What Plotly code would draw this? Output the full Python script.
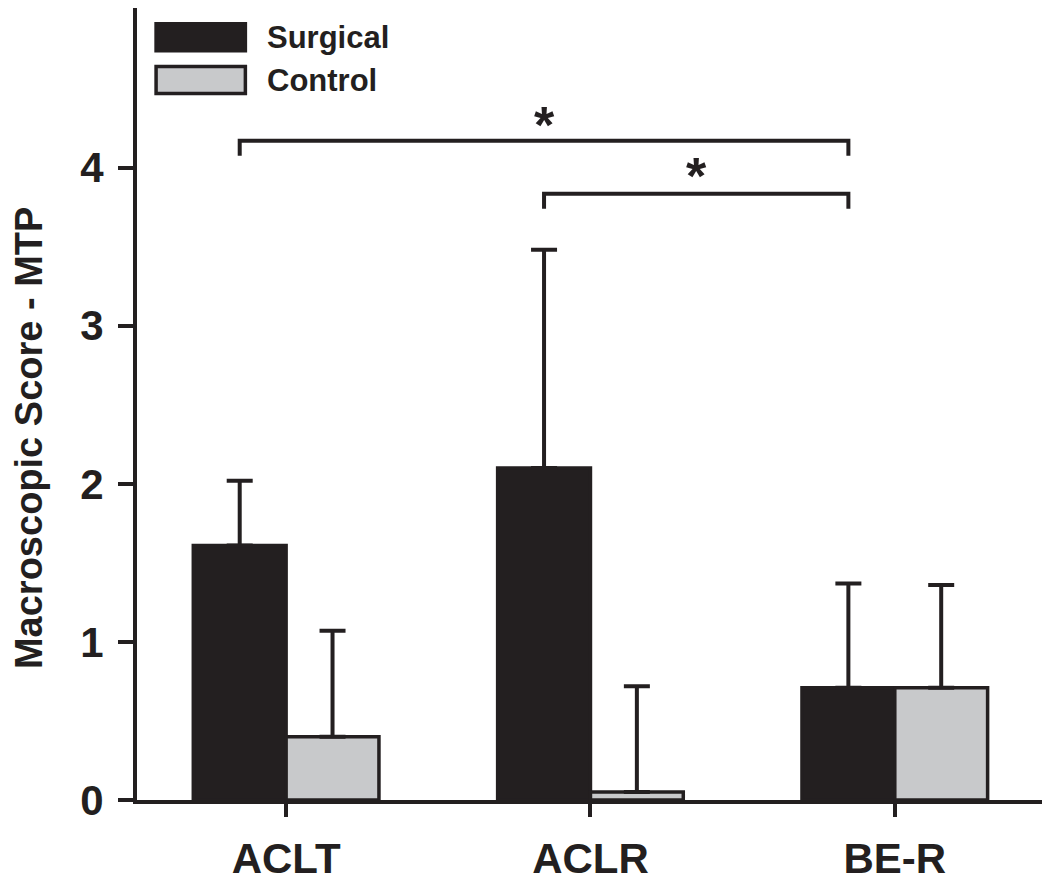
import plotly.graph_objects as go

categories = ["ACLT", "ACLR", "BE-R"]
surgical_mean = [1.61, 2.10, 0.71]
surgical_sd = [0.41, 1.38, 0.66]
control_mean = [0.40, 0.05, 0.71]
control_sd = [0.67, 0.67, 0.65]
series_names = ["Surgical", "Control"]
y_ticks = [0, 1, 2, 3, 4]
# significance brackets: (from category index, to category index, level, drop, star level)
brackets = [(0, 2, 4.17, 0.095, 4.27), (1, 2, 3.835, 0.095, 3.95)]

INK = "#231f20"
GREY = "#c8c9cb"
FONT = "Liberation Sans"
BARGAP = 0.39

# the page body has an 8px margin; the figure is sized so the plot area lands
# where it sits in the reference (x 137..1047, y 6..800 in window pixels)
W, H = 1042, 875
ML, MR, MT, MB = 129, 0, 0, 83

fig = go.Figure()
fig.add_trace(go.Bar(
    x=categories, y=surgical_mean, name=series_names[0],
    marker=dict(color=INK, line=dict(color=INK, width=3.5)),
    error_y=dict(type="data", symmetric=False, array=surgical_sd,
                 arrayminus=[0] * len(surgical_sd), thickness=4, width=13, color=INK),
    showlegend=False,
))
fig.add_trace(go.Bar(
    x=categories, y=control_mean, name=series_names[1],
    marker=dict(color=GREY, line=dict(color=INK, width=3.5)),
    error_y=dict(type="data", symmetric=False, array=control_sd,
                 arrayminus=[0] * len(control_sd), thickness=4, width=13, color=INK),
    showlegend=False,
))

offset = (1 - BARGAP) / 4.0
shapes = []
annotations = []
for a, b, lvl, drop, star in brackets:
    x0 = a - offset
    x1 = b - offset
    shapes.append(dict(
        type="path", xref="x", yref="y",
        path=f"M {x0},{lvl - drop} L {x0},{lvl} L {x1},{lvl} L {x1},{lvl - drop}",
        line=dict(color=INK, width=4),
    ))
    annotations.append(dict(
        xref="x", yref="y", x=(x0 + x1) / 2, y=star, text="<b>*</b>",
        showarrow=False, font=dict(family=FONT, size=52, color=INK),
        xanchor="center", yanchor="middle",
    ))

# manual legend (paper coords relative to the plot area)
legend_rows = [(series_names[0], INK, 0.946, 0.980), (series_names[1], GREY, 0.892, 0.926)]
for name, col, y0, y1 in legend_rows:
    shapes.append(dict(
        type="rect", xref="paper", yref="paper", x0=0.0209, x1=0.1187, y0=y0, y1=y1,
        fillcolor=col, line=dict(color=INK, width=3.5),
    ))
    annotations.append(dict(
        xref="paper", yref="paper", x=0.1407, y=(y0 + y1) / 2, text=f"<b>{name}</b>",
        showarrow=False, xanchor="left", yanchor="middle",
        font=dict(family=FONT, size=31, color=INK),
    ))

annotations.append(dict(
    xref="paper", yref="paper", x=0, y=0.457, xshift=-108, text="<b>Macroscopic Score - MTP</b>",
    textangle=-90, showarrow=False, xanchor="center", yanchor="middle",
    font=dict(family=FONT, size=38, color=INK),
))

fig.update_layout(
    width=W, height=H,
    margin=dict(l=ML, r=MR, t=MT, b=MB, pad=0, autoexpand=False),
    paper_bgcolor="white", plot_bgcolor="white",
    barmode="group", bargap=BARGAP, bargroupgap=0,
    shapes=shapes, annotations=annotations,
    font=dict(family=FONT, color=INK),
)
fig.update_xaxes(
    type="category", categoryorder="array", categoryarray=categories,
    range=[-0.49, 2.51], showline=True, linecolor=INK, linewidth=4,
    ticks="outside", ticklen=13, tickwidth=4, tickcolor=INK,
    tickfont=dict(family=FONT, size=42, color=INK),
    tickprefix="<b>", ticksuffix="</b>", ticklabelstandoff=6,
    showgrid=False, zeroline=False, automargin=False,
)
fig.update_yaxes(
    range=[0, 5.01], tickvals=y_ticks, ticktext=[f"<b>{v}</b>" for v in y_ticks],
    showline=True, linecolor=INK, linewidth=4,
    ticks="outside", ticklen=15, tickwidth=4, tickcolor=INK,
    tickfont=dict(family=FONT, size=42, color=INK), ticklabelstandoff=6,
    showgrid=False, zeroline=False, automargin=False,
)

fig.write_html("out.html")
